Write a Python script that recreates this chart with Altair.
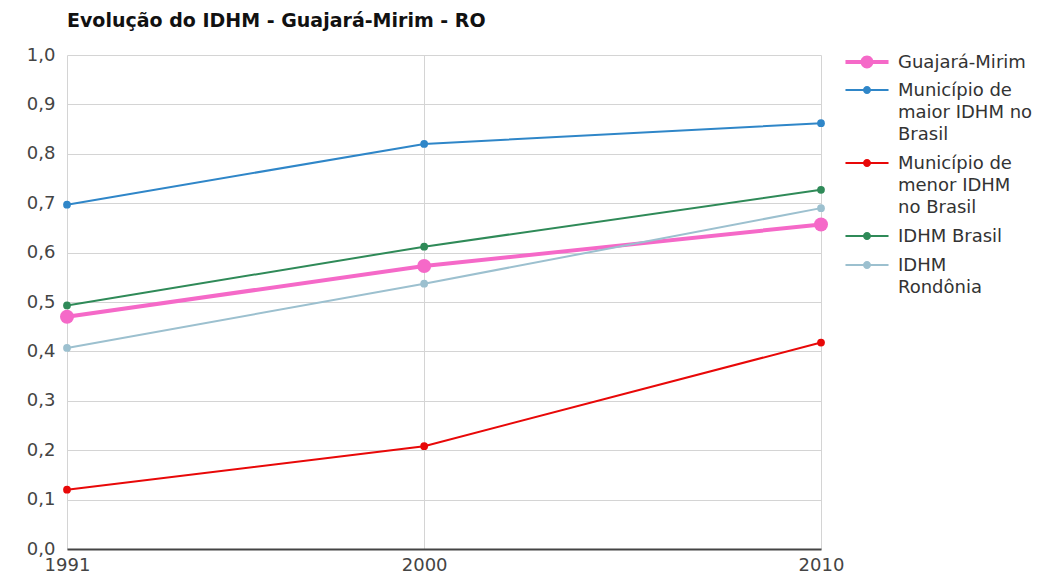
import json
import altair as alt
import pandas as pd

# ---- data ----
years = [1991, 2000, 2010]
series_names = [
    "Guajará-Mirim",
    "Município de maior IDHM no Brasil",
    "Município de menor IDHM no Brasil",
    "IDHM Brasil",
    "IDHM Rondônia",
]
legend_lines = [
    ["Guajará-Mirim"],
    ["Município de", "maior IDHM no", "Brasil"],
    ["Município de", "menor IDHM", "no Brasil"],
    ["IDHM Brasil"],
    ["IDHM", "Rondônia"],
]
guajara = [0.470, 0.573, 0.657]
maior = [0.697, 0.820, 0.862]
menor = [0.120, 0.208, 0.418]
brasil = [0.493, 0.612, 0.727]
rondonia = [0.407, 0.537, 0.690]
colors = ["#f569c8", "#2f86c8", "#e80808", "#2f8a58", "#9cc0cf"]
y_ticks = [0.0, 0.1, 0.2, 0.3, 0.4, 0.5, 0.6, 0.7, 0.8, 0.9, 1.0]

all_values = [guajara, maior, menor, brasil, rondonia]
rows = []
for name, vals in zip(series_names, all_values):
    for yr, v in zip(years, vals):
        rows.append({"serie": name, "ano": yr, "idhm": v})
df = pd.DataFrame(rows)
df_main = df[df["serie"] == series_names[0]]
df_other = df[df["serie"] != series_names[0]]

label_expr = ""
for name, lines in zip(series_names, legend_lines):
    label_expr += "datum.label == " + json.dumps(name, ensure_ascii=False) + " ? " + json.dumps(lines, ensure_ascii=False) + " : "
label_expr += "datum.label"

FONT = "DejaVu Sans"

x_enc = alt.X(
    "ano:Q",
    scale=alt.Scale(domain=[1991, 2010], nice=False, zero=False),
    axis=alt.Axis(values=years, format="d", title=None, labelFontSize=18, labelColor="#444",
                  labelFont=FONT, grid=True, gridColor="#d4d4d4", domain=True, domainColor="#444",
                  domainWidth=2, ticks=False, labelPadding=7, labelFlush=False),
)
y_enc = alt.Y(
    "idhm:Q",
    scale=alt.Scale(domain=[0, 1], nice=False),
    axis=alt.Axis(values=y_ticks, labelExpr="replace(format(datum.value, '.1f'), '.', ',')",
                  title=None, labelFontSize=18, labelColor="#444", labelFont=FONT, domain=False,
                  ticks=False, labelPadding=12, gridColor="#d4d4d4"),
)

# legend symbols: a bar with a dot in the middle (unit = 8px for symbolSize 256),
# drawn one unit lower so that it sits beside the first line of the label
path_main = ("M-2.69,0.75L2.69,0.75L2.69,1.25L-2.69,1.25Z "
             "M-0.81,1A0.81,0.81 0 1 1 0.81,1A0.81,0.81 0 1 1 -0.81,1Z")
path_other = ("M-2.69,0.875L2.69,0.875L2.69,1.125L-2.69,1.125Z "
              "M-0.5,1A0.5,0.5 0 1 1 0.5,1A0.5,0.5 0 1 1 -0.5,1Z")

main_color = alt.Scale(domain=series_names[:1], range=colors[:1])
other_color = alt.Scale(domain=series_names[1:], range=colors[1:])


def legend(path, ly):
    return alt.Legend(title=None, symbolType=path, symbolSize=256, labelFontSize=18,
                      labelColor="#333", labelFont=FONT, labelExpr=label_expr, labelLimit=300,
                      labelOffset=22, labelBaseline="top", orient="none", legendX=791, legendY=ly)


main_line = alt.Chart(df_main).mark_line(strokeWidth=4).encode(
    x=x_enc, y=y_enc, stroke=alt.Stroke("serie:N", scale=main_color, legend=None))
main_pts = alt.Chart(df_main).mark_point(filled=True, size=196, opacity=1).encode(
    x=x_enc, y=y_enc, color=alt.Color("serie:N", scale=main_color, legend=legend(path_main, -10)))
other_line = alt.Chart(df_other).mark_line(strokeWidth=2).encode(
    x=x_enc, y=y_enc, stroke=alt.Stroke("serie:N", scale=other_color, legend=None))
other_pts = alt.Chart(df_other).mark_point(filled=True, size=60, opacity=1).encode(
    x=x_enc, y=y_enc, color=alt.Color("serie:N", scale=other_color, legend=legend(path_other, 18)))

chart = alt.layer(main_line, main_pts, other_line, other_pts).resolve_scale(
    color="independent", stroke="independent").properties(
    width=754,
    height=494,
    padding={"left": 67, "top": 55, "right": 229, "bottom": 29},
    autosize=alt.AutoSizeParams(type="none"),
    title=alt.TitleParams("Evolução do IDHM - Guajará-Mirim - RO", anchor="start", frame="group",
                          fontSize=19, fontWeight="bold", font=FONT, color="#111", offset=14),
).configure(style={"guide-label": {"lineHeight": 22}}).configure_view(stroke=None)

chart.save("out.html", embed_options={"renderer": "svg", "actions": False})
